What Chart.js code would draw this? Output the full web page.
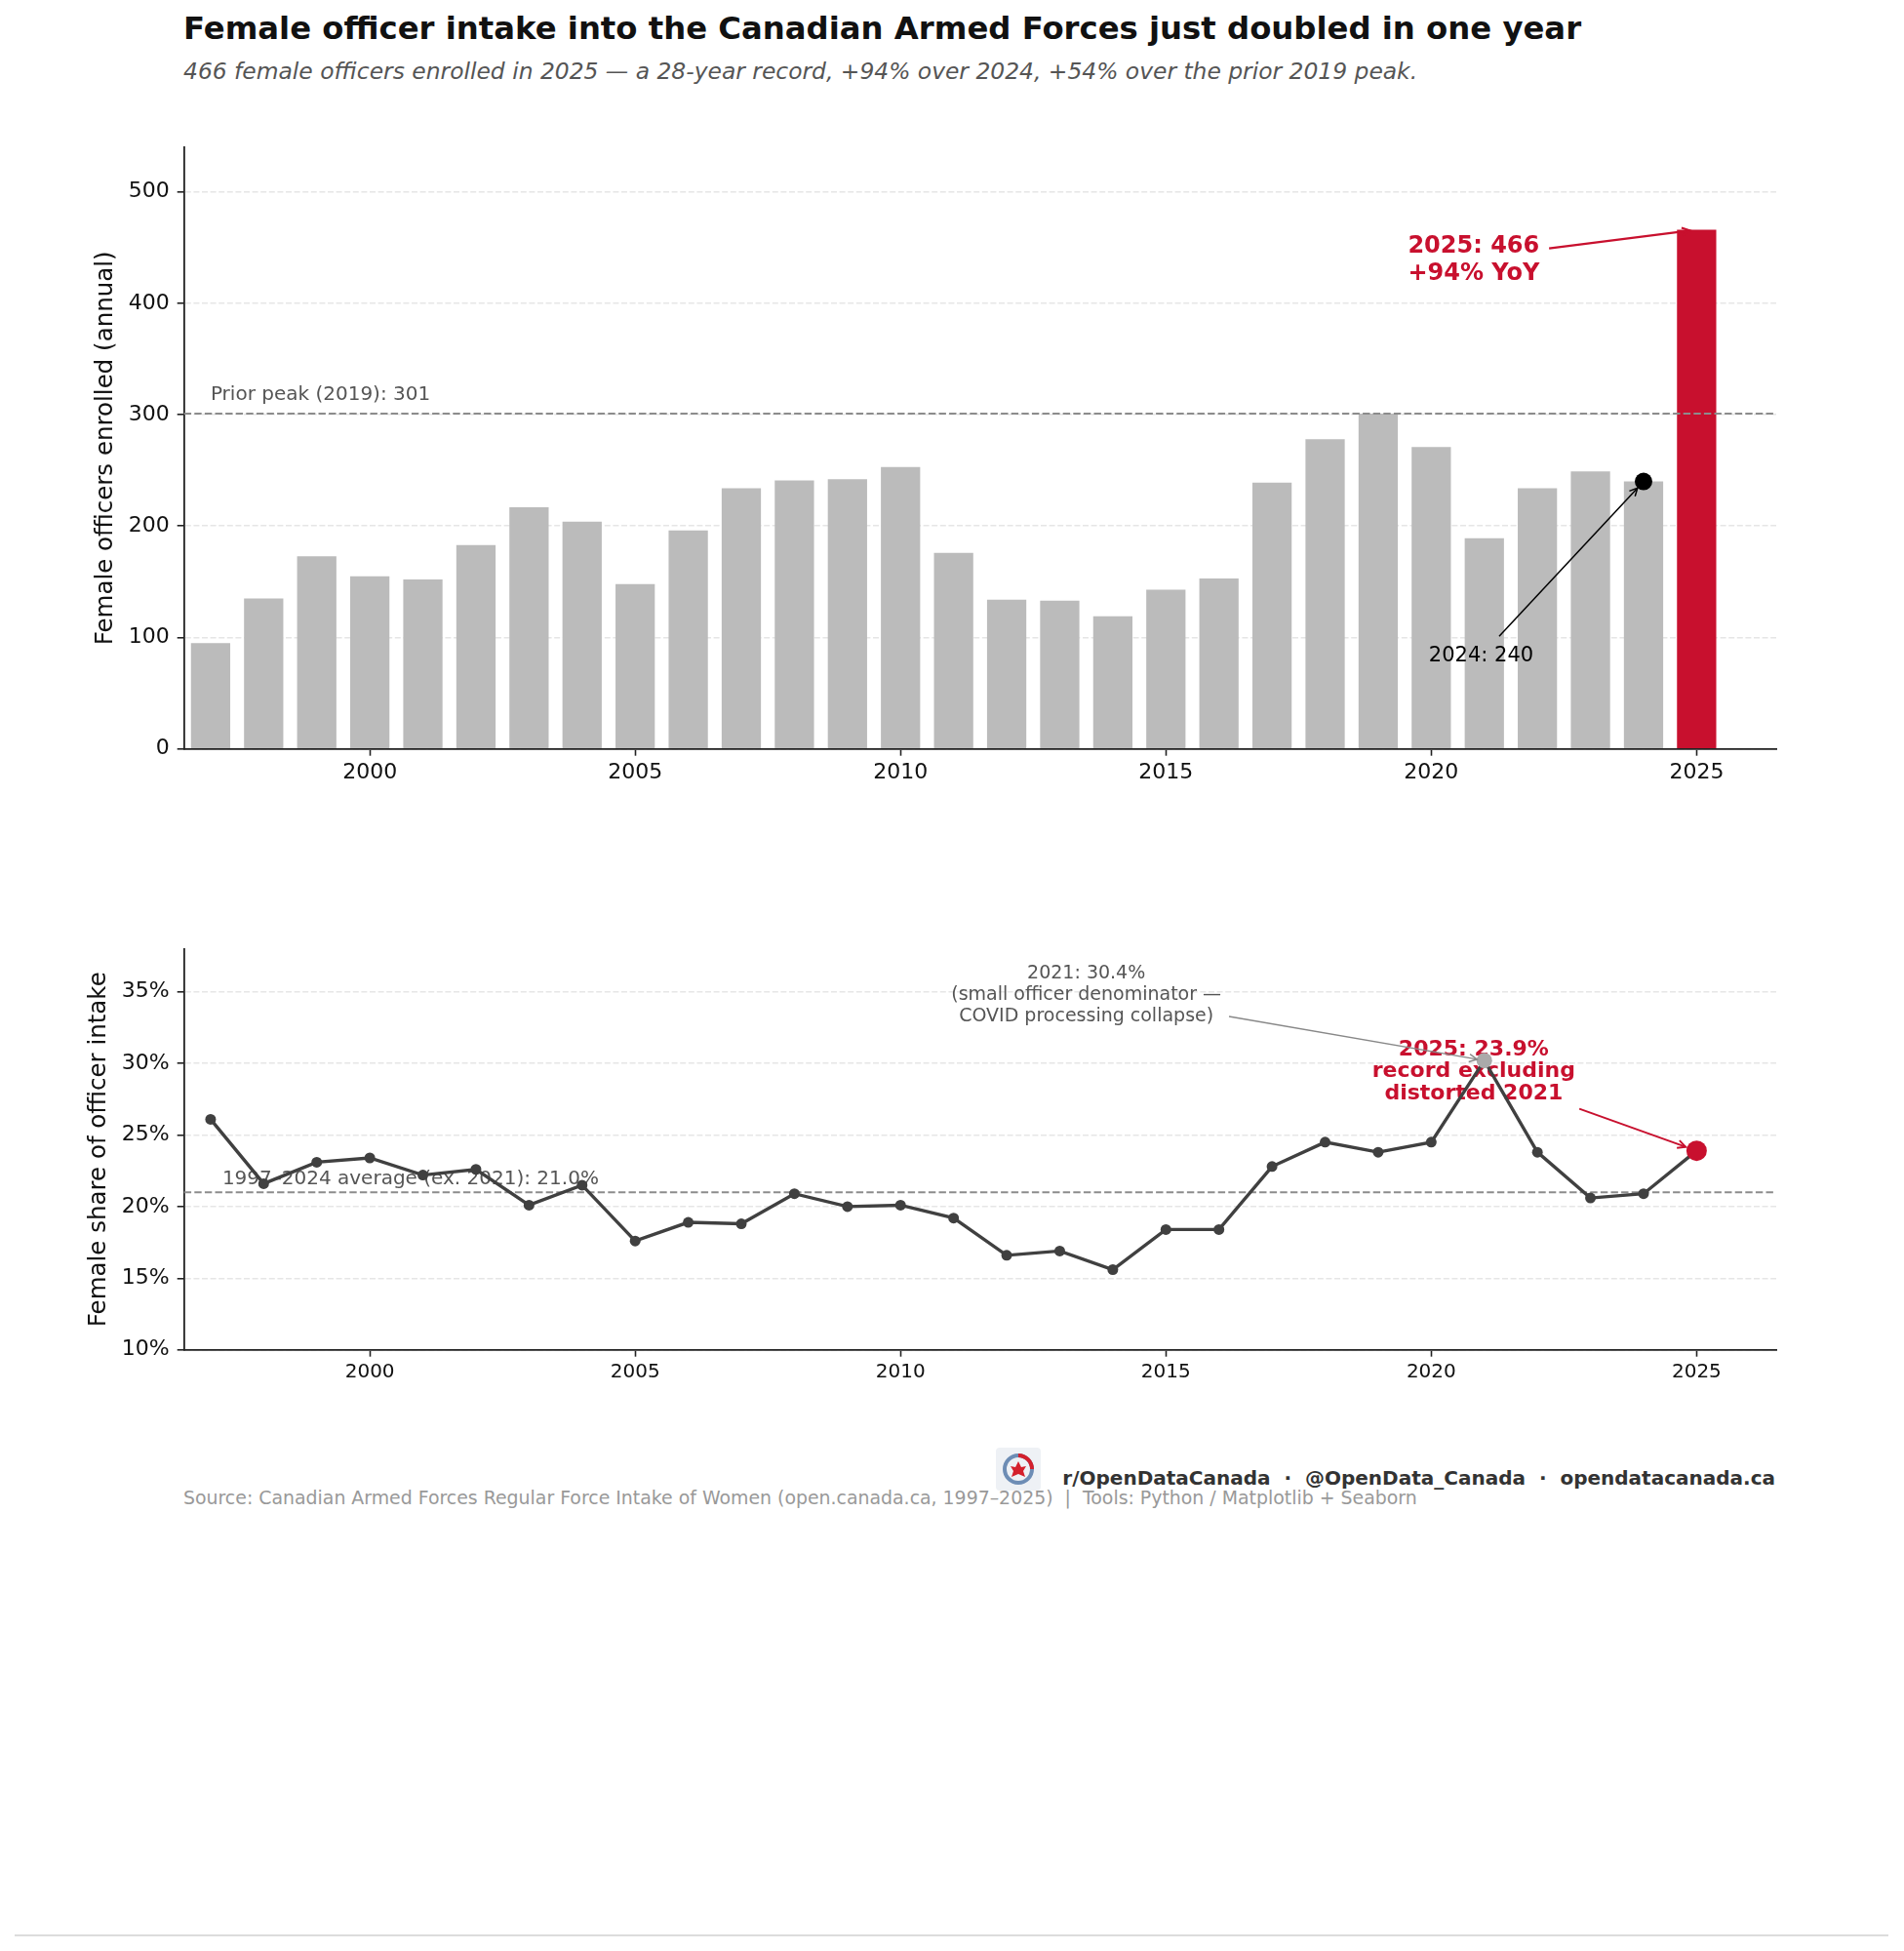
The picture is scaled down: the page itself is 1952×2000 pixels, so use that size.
<!DOCTYPE html>
<html>
<head>
<meta charset="utf-8">
<title>Female officer intake – Canadian Armed Forces</title>
<script src="https://cdn.jsdelivr.net/npm/chart.js@4.4.1/dist/chart.umd.min.js"></script>
<style>
  html, body { margin: 0; padding: 0; background: #fff; }
  body { width: 1952px; height: 2000px; position: relative; overflow: hidden; font-family: "DejaVu Sans", sans-serif; }
  .txt { position: absolute; line-height: 1; white-space: pre; }
  #title { left: 188px; top: 13px; font-size: 32.3px; font-weight: bold; color: #111; }
  #subtitle { left: 188px; top: 61.5px; font-size: 23.4px; font-style: italic; color: #555; }
  #brand { right: 132px; top: 1505px; font-size: 20px; font-weight: bold; color: #333; }
  #source { left: 188px; top: 1526px; font-size: 18.9px; color: #999; }
  #logo { position: absolute; left: 1021px; top: 1484px; }
  #rule { position: absolute; left: 15px; top: 1983px; width: 1921px; height: 2px; background: #dcdcdc; }
  canvas { position: absolute; left: 0; }
  #cCount { top: 100px; }
  #cShare { top: 900px; }
</style>
</head>
<body>
<div id="title" class="txt">Female officer intake into the Canadian Armed Forces just doubled in one year</div>
<div id="subtitle" class="txt">466 female officers enrolled in 2025 — a 28-year record, +94% over 2024, +54% over the prior 2019 peak.</div>

<canvas id="cCount" width="1952" height="740"></canvas>
<canvas id="cShare" width="1952" height="560"></canvas>

<svg id="logo" width="46" height="44" viewBox="0 0 46 44">
  <rect x="0" y="0" width="46" height="44" rx="4" fill="#eef1f5"/>
  <circle cx="23" cy="22" r="14" fill="none" stroke="#6d8db5" stroke-width="4"/>
  <path d="M23 8 A14 14 0 0 1 37 22" fill="none" stroke="#d4202c" stroke-width="4"/>
  <path d="M23 14 L26 20 L31 19 L28 24 L30 30 L23 27 L16 30 L18 24 L15 19 L20 20 Z" fill="#d4202c"/>
</svg>
<div id="brand" class="txt">r/OpenDataCanada  ·  @OpenData_Canada  ·  opendatacanada.ca</div>
<div id="source" class="txt">Source: Canadian Armed Forces Regular Force Intake of Women (open.canada.ca, 1997–2025)  |  Tools: Python / Matplotlib + Seaborn</div>
<div id="rule"></div>

<script>
// ── Datos ──────────────────────────────────────────────────────────────
const years = [1997, 1998, 1999, 2000, 2001, 2002, 2003, 2004, 2005, 2006,
               2007, 2008, 2009, 2010, 2011, 2012, 2013, 2014, 2015, 2016,
               2017, 2018, 2019, 2020, 2021, 2022, 2023, 2024, 2025];
const femaleOfficers = [95, 135, 173, 155, 152, 183, 217, 204, 148, 196,
                        234, 241, 242, 253, 176, 134, 133, 119, 143, 153,
                        239, 278, 301, 271, 189, 234, 249, 240, 466];
const femaleSharePct = [26.1, 21.6, 23.1, 23.4, 22.2, 22.6, 20.1, 21.5, 17.6, 18.9,
                        18.8, 20.9, 20.0, 20.1, 19.2, 16.6, 16.9, 15.6, 18.4, 18.4,
                        22.8, 24.5, 23.8, 24.5, 30.2, 23.8, 20.6, 20.9, 23.9];
const yearTicks  = [2000, 2005, 2010, 2015, 2020, 2025];
const countTicks = [0, 100, 200, 300, 400, 500];
const shareTicks = [10, 15, 20, 25, 30, 35];
const priorPeak = 301;          // 2019
const avgShareEx2021 = 21.0;    // 1997–2024 sin 2021

const RED = '#c8102e', GREY_BAR = '#bbbbbb', LINE = '#404040', FONT = '"DejaVu Sans", sans-serif';

Chart.defaults.font.family = FONT;
Chart.defaults.color = '#111';
Chart.defaults.animation = false;
Chart.defaults.plugins.legend.display = false;
Chart.defaults.plugins.tooltip.enabled = false;

// ── Helpers de dibujo ───────────────────────────────────────────────────
const at = (chart, x, y) => [chart.scales.x.getPixelForValue(x), chart.scales.y.getPixelForValue(y)];

function hline(chart, value, color, width, dash) {
  const { ctx, chartArea: { left, right } } = chart;
  const y = chart.scales.y.getPixelForValue(value);
  ctx.save();
  ctx.strokeStyle = color; ctx.lineWidth = width; ctx.setLineDash(dash);
  ctx.beginPath(); ctx.moveTo(left, y); ctx.lineTo(right, y); ctx.stroke();
  ctx.restore();
}

function lines(ctx, rows, x, y, font, color, align, step) {
  ctx.save();
  ctx.font = font; ctx.fillStyle = color; ctx.textAlign = align; ctx.textBaseline = 'alphabetic';
  rows.forEach((t, i) => ctx.fillText(t, x, y + i * step));
  ctx.restore();
}

// flecha estilo "->": trazo abierto, acortada antes del punto
function arrow(ctx, [x0, y0], [x1, y1], shrink, color, width) {
  const len = Math.hypot(x1 - x0, y1 - y0);
  const ux = (x1 - x0) / len, uy = (y1 - y0) / len;
  const ex = x1 - ux * shrink, ey = y1 - uy * shrink;
  const a = Math.atan2(uy, ux), h = 9;
  ctx.save();
  ctx.strokeStyle = color; ctx.lineWidth = width; ctx.setLineDash([]);
  ctx.beginPath(); ctx.moveTo(x0, y0); ctx.lineTo(ex, ey); ctx.stroke();
  ctx.beginPath();
  ctx.moveTo(ex - h * Math.cos(a - 0.46), ey - h * Math.sin(a - 0.46));
  ctx.lineTo(ex, ey);
  ctx.lineTo(ex - h * Math.cos(a + 0.46), ey - h * Math.sin(a + 0.46));
  ctx.stroke();
  ctx.restore();
}

// ── Ejes ────────────────────────────────────────────────────────────────
function yearAxis(fontSize, height) {
  return {
    type: 'linear', min: 1996.5, max: 2026.5, offset: false,
    afterBuildTicks: ax => { ax.ticks = yearTicks.map(v => ({ value: v })); },
    afterFit: ax => { ax.height = height; },
    grid: { display: true, drawOnChartArea: false, drawTicks: true, offset: false,
            tickLength: 7, tickWidth: 1.6, tickColor: '#222' },
    border: { display: true, color: '#222', width: 1.8 },
    ticks: { font: { size: fontSize }, color: '#111', padding: 4, autoSkip: false, maxRotation: 0,
             callback: v => String(v) }
  };
}

function valueAxis(min, max, ticks, fmt, label, titlePad) {
  return {
    min, max,
    afterBuildTicks: ax => { ax.ticks = ticks.map(v => ({ value: v })); },
    afterFit: ax => { ax.width = 188.7; },
    grid: { color: '#e6e6e6', lineWidth: 1.6, drawTicks: true, tickLength: 7,
            tickWidth: 1.6, tickColor: '#222', tickBorderDash: [100, 0] },
    border: { display: true, color: '#222', width: 1.8, dash: [6, 2.6] },
    ticks: { font: { size: 22 }, color: '#111', padding: 8, callback: fmt },
    title: { display: true, text: label, color: '#111', font: { size: 24.5 }, padding: { top: titlePad, bottom: 0 } }
  };
}

// ── Gráfico 1: efectivos anuales ────────────────────────────────────────
const countNotes = {
  id: 'countNotes',
  afterDatasetsDraw(chart) {
    const { ctx } = chart;
    hline(chart, priorPeak, '#8c8c8c', 2, [7.4, 3.2]);
    const [px, py] = at(chart, 1997, 313);
    lines(ctx, ['Prior peak (2019): ' + priorPeak], px, py, '20px ' + FONT, '#555', 'left', 0);

    const i25 = years.indexOf(2025), i24 = years.indexOf(2024);
    const [jx, jy] = at(chart, 2019.56, 445.6);
    lines(ctx, ['2025: ' + femaleOfficers[i25], '+94% YoY'], jx, jy, 'bold 24px ' + FONT, RED, 'left', 28);
    arrow(ctx, at(chart, 2022.22, 449.2), at(chart, 2025, femaleOfficers[i25]), 7, RED, 2.2);

    const [tx, ty] = at(chart, 2020.94, 78.5);
    lines(ctx, ['2024: ' + femaleOfficers[i24]], tx, ty, '21px ' + FONT, '#000', 'center', 0);
    arrow(ctx, at(chart, 2021.28, 101), at(chart, 2024, femaleOfficers[i24]), 9, '#000', 1.5);
  }
};

new Chart(document.getElementById('cCount'), {
  type: 'bar',
  data: {
    datasets: [
      { type: 'scatter', data: [{ x: 2024, y: femaleOfficers[years.indexOf(2024)] }],
        pointRadius: 9, pointBackgroundColor: '#000', pointBorderWidth: 0, order: 0 },
      { type: 'bar', data: years.map((x, i) => ({ x, y: femaleOfficers[i] })),
        backgroundColor: years.map(y => y === 2025 ? RED : GREY_BAR),
        borderWidth: 0, barPercentage: 0.74, categoryPercentage: 1, order: 1 }
    ]
  },
  options: {
    responsive: false,
    layout: { padding: { top: 51, right: 131, bottom: 0, left: 0 } },
    scales: {
      x: yearAxis(22, 72.3),
      y: valueAxis(0, 540, countTicks, v => String(v), 'Female officers enrolled (annual)', 94.3)
    }
  },
  plugins: [countNotes]
});

// ── Gráfico 2: proporción femenina ──────────────────────────────────────
const shareNotes = {
  id: 'shareNotes',
  beforeDatasetsDraw(chart) {
    const { ctx } = chart;
    hline(chart, avgShareEx2021, '#8c8c8c', 2, [7.4, 3.2]);
    const [ax, ay] = at(chart, 1997.22, 21.56);
    lines(ctx, ['1997–2024 average (ex. 2021): ' + avgShareEx2021.toFixed(1) + '%'], ax, ay, '20px ' + FONT, '#555', 'left', 0);
    const [rx, ry] = at(chart, 2020.8, 30.57);
    lines(ctx, ['2025: ' + femaleSharePct[years.indexOf(2025)].toFixed(1) + '%', 'record excluding', 'distorted 2021'],
          rx, ry, 'bold 22px ' + FONT, RED, 'center', 22.5);
  },
  afterDatasetsDraw(chart) {
    const { ctx } = chart;
    const [gx, gy] = at(chart, 2013.5, 35.91);
    lines(ctx, ['2021: 30.4%', '(small officer denominator —', 'COVID processing collapse)'],
          gx, gy, '19px ' + FONT, '#555', 'center', 21.7);
    arrow(ctx, at(chart, 2016.19, 33.28), at(chart, 2021, femaleSharePct[years.indexOf(2021)]), 7.5, '#888', 1.4);
    arrow(ctx, at(chart, 2022.79, 26.83), at(chart, 2025, femaleSharePct[years.indexOf(2025)]), 12, RED, 2);
  }
};

const dot = (year, r, color) => ({
  type: 'scatter', data: [{ x: year, y: femaleSharePct[years.indexOf(year)] }],
  pointRadius: r, pointBackgroundColor: color, pointBorderWidth: 0, order: 0
});

new Chart(document.getElementById('cShare'), {
  type: 'line',
  data: {
    datasets: [
      dot(2021, 8, '#aaaaaa'),
      dot(2025, 10.5, RED),
      { data: years.map((x, i) => ({ x, y: femaleSharePct[i] })),
        borderColor: LINE, borderWidth: 3.4, tension: 0,
        pointRadius: 5.5, pointBackgroundColor: LINE, pointBorderWidth: 0, order: 1 }
    ]
  },
  options: {
    responsive: false,
    layout: { padding: { top: 72.7, right: 131, bottom: 0, left: 0 } },
    scales: {
      x: yearAxis(20, 76.3),
      y: valueAxis(10, 38, shareTicks, v => v + '%', 'Female share of officer intake', 87)
    }
  },
  plugins: [shareNotes]
});
</script>
</body>
</html>
